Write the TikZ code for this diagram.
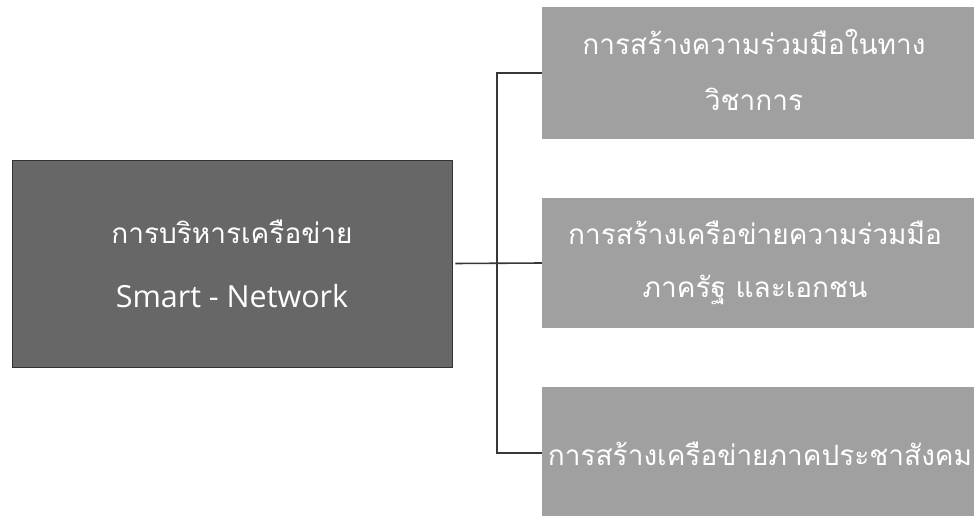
\documentclass[tikz,border=0pt]{standalone}
\usepackage{fontspec}
\setmainfont{Open Sans}
\newfontfamily\thaifont[Script=Thai]{Loma}
\definecolor{darkbox}{RGB}{102,103,102}
\definecolor{lightbox}{RGB}{160,160,160}
\definecolor{linecol}{RGB}{55,55,55}
\tikzset{
  mainbox/.style={fill=darkbox, draw=black!80, line width=0.8pt, minimum width=440pt, minimum height=207pt, text=white, align=center, inner sep=0pt},
  subbox/.style={fill=lightbox, draw=none, minimum width=432pt, text=white, align=center, inner sep=0pt},
  thaitext/.style={text=white, inner sep=0pt, font=\thaifont\fontsize{28}{33}\selectfont},
  conn/.style={draw=linecol, line width=1.6pt}
}
\begin{document}
\begin{tikzpicture}[x=1pt,y=-1pt]
\useasboundingbox (0,0) rectangle (974,515);
\clip (0,0) rectangle (974,515);
\node[mainbox] (L) at (232,263.5) {};
\node[thaitext] (Lt1) at (232,232) {การบริหารเครือข่าย};
\node[text=white, inner sep=0pt, font=\fontsize{30.5}{36}\selectfont] (Lt2) at (232,296) {Smart - Network};
\node[subbox, minimum height=132pt] (R1) at (758,73) {};
\node[subbox, minimum height=130pt] (R2) at (758,263) {};
\node[subbox, minimum height=132pt] (R3) at (758,453) {};
\node[thaitext] (R1a) at (754,42) {การสร้างความร่วมมือในทาง};
\node[thaitext] (R1b) at (754,99) {วิชาการ};
\node[thaitext] (R2a) at (755,233) {การสร้างเครือข่ายความร่วมมือ};
\node[thaitext] (R2b) at (755,290) {ภาครัฐ และเอกชน};
\node[thaitext] (R3a) at (760,454) {การสร้างเครือข่ายภาคประชาสังคม};
\coordinate (J) at (497,263);
\draw[conn, shorten <=3pt] (L.east) -- (R2.west);
\draw[conn] (J) |- (R1.west);
\draw[conn] (J) |- (R3.west);
\end{tikzpicture}
\end{document}
